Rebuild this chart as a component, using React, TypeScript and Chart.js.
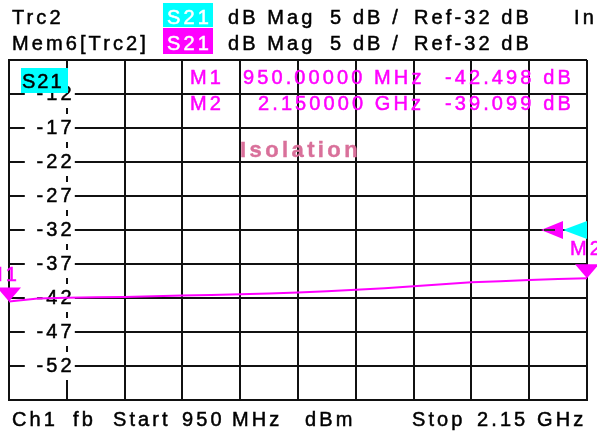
import React, { useEffect, useRef } from 'react';
import { Chart, registerables } from 'chart.js';

Chart.register(...registerables);

// ---- data ----
const freqsMHz = [950, 1010, 1070, 1130, 1190, 1250, 1310, 1370, 1430, 1490, 1550, 1610, 1670, 1730, 1790, 1850, 1910, 1970, 2030, 2090, 2150];
const s21dB = [-42.5, -42.08, -41.97, -41.9, -41.86, -41.74, -41.62, -41.55, -41.44, -41.33, -41.2, -41.02, -40.78, -40.55, -40.28, -39.98, -39.7, -39.52, -39.35, -39.22, -39.1];
const yTickLabels = [-12, -17, -22, -27, -32, -37, -42, -47, -52];
const startMHz = 950;
const stopMHz = 2150;
const refLevel = -32;
const dbPerDiv = 5;
const markerFreqs = [950, 2150];
const markerValues = [-42.498, -39.099];
const markerNames = ['M1', 'M2'];
const markerFreqText = ['950.00000 MHz', '2.150000 GHz'];
const markerValueText = ['-42.498 dB', '-39.099 dB'];

const FONT = '"Liberation Sans", Arial, sans-serif';
const MAGENTA = '#ff00ff';
const CYAN = '#00ffff';

function drawText(ctx: CanvasRenderingContext2D, s: string, x: number, y: number, color: string, opts: any = {}) {
  ctx.save();
  ctx.font = opts.font || `20px ${FONT}`;
  (ctx as any).letterSpacing = (opts.spacing ?? 3.1) + 'px';
  ctx.fillStyle = color;
  ctx.strokeStyle = color;
  ctx.lineWidth = opts.stroke ?? 0.5;
  ctx.textAlign = opts.align || 'left';
  ctx.textBaseline = 'alphabetic';
  ctx.fillText(s, x, y);
  if (ctx.lineWidth > 0) ctx.strokeText(s, x, y);
  ctx.restore();
}

function tri(ctx: CanvasRenderingContext2D, pts: number[][], color: string) {
  ctx.beginPath();
  ctx.moveTo(pts[0][0], pts[0][1]);
  ctx.lineTo(pts[1][0], pts[1][1]);
  ctx.lineTo(pts[2][0], pts[2][1]);
  ctx.closePath();
  ctx.fillStyle = color;
  ctx.fill();
}

const overlay = {
  id: 'vnaOverlay',
  beforeDatasetsDraw(chart: any) {
    const { ctx, scales } = chart;
    const y = scales.y;
    const x = scales.x;
    const axisX = x.getPixelForValue(startMHz + (stopMHz - startMHz) / 10);
    ctx.save();
    for (const v of yTickLabels) {
      const py = y.getPixelForValue(v);
      ctx.fillStyle = '#ffffff';
      ctx.fillRect(axisX - 42, py - 14, 50, 28);
      drawText(ctx, String(v), axisX + 8, py + 6, '#000', { align: 'right' });
    }
    // S21 box in plot
    const ca = chart.chartArea;
    ctx.fillStyle = CYAN;
    ctx.fillRect(ca.left + 12, ca.top + 8, 47, 25);
    drawText(ctx, 'S21', ca.left + 13, ca.top + 28, '#000', { spacing: 2 });
    ctx.restore();
  },
  afterDatasetsDraw(chart: any) {
    const { ctx, scales, chartArea: ca } = chart;
    const x = scales.x;
    const y = scales.y;
    ctx.save();
    // marker readout
    const rowY = [84, 110];
    for (let i = 0; i < 2; i++) {
      drawText(ctx, markerNames[i], 190, rowY[i], MAGENTA);
      drawText(ctx, markerFreqText[i], i === 0 ? 243 : 258, rowY[i], MAGENTA);
      drawText(ctx, markerValueText[i], 445, rowY[i], MAGENTA);
    }
    drawText(ctx, 'Isolation', 240, 157, '#d9709a', { font: `bold 22px ${FONT}`, spacing: 3.4, stroke: 0.4 });

    // markers
    for (let i = 0; i < 2; i++) {
      const cx = x.getPixelForValue(markerFreqs[i]);
      const ty = y.getPixelForValue(markerValues[i]);
      tri(ctx, [[cx - 12, ty - 14], [cx + 12, ty - 14], [cx, ty]], MAGENTA);
      if (i === 0) drawText(ctx, markerNames[i], cx - 23, ty - 20, MAGENTA);
      else drawText(ctx, markerNames[i], cx - 17, ty - 23, MAGENTA);
    }
    // reference level arrows
    const ry = y.getPixelForValue(refLevel);
    tri(ctx, [[ca.right, ry - 9], [ca.right, ry + 9], [ca.right - 24, ry]], CYAN);
    tri(ctx, [[ca.right - 24, ry - 9], [ca.right - 24, ry + 9], [ca.right - 46, ry]], MAGENTA);
    ctx.strokeStyle = '#333';
    ctx.lineWidth = 2;
    ctx.beginPath();
    ctx.moveTo(ca.right - 43, ry);
    ctx.lineTo(ca.right - 32, ry);
    ctx.stroke();
    ctx.restore();
  },
  afterDraw(chart: any) {
    const { ctx } = chart;
    ctx.save();
    // header row 1
    drawText(ctx, 'Trc2', 12, 24, '#000');
    ctx.fillStyle = CYAN;
    ctx.fillRect(163, 3, 50, 24);
    drawText(ctx, 'S21', 167, 24, '#fff');
    drawText(ctx, 'dB Mag', 228, 24, '#000');
    drawText(ctx, '5 dB /', 330, 24, '#000');
    drawText(ctx, `Ref${refLevel} dB`, 414, 24, '#000');
    drawText(ctx, 'In', 574, 24, '#000');
    // header row 2
    drawText(ctx, 'Mem6[Trc2]', 12, 50, '#000');
    ctx.fillStyle = MAGENTA;
    ctx.fillRect(163, 28, 50, 26);
    drawText(ctx, 'S21', 167, 50, '#fff');
    drawText(ctx, 'dB Mag', 228, 50, '#000');
    drawText(ctx, `${dbPerDiv} dB /`, 330, 50, '#000');
    drawText(ctx, `Ref${refLevel} dB`, 414, 50, '#000');
    // footer
    const fy = 426;
    drawText(ctx, 'Ch1', 12, fy, '#000');
    drawText(ctx, 'fb', 73, fy, '#000');
    drawText(ctx, 'Start', 113, fy, '#000');
    drawText(ctx, '950', 182, fy, '#000');
    drawText(ctx, 'MHz', 232, fy, '#000');
    drawText(ctx, 'dBm', 305, fy, '#000');
    drawText(ctx, 'Stop', 412, fy, '#000');
    drawText(ctx, '2.15 GHz', 477, fy, '#000');
    ctx.restore();
  },
};

export default function App() {
  const ref = useRef<HTMLCanvasElement | null>(null);
  useEffect(() => {
    document.body.style.margin = '0';
    const canvas = ref.current!;
    const chart = new Chart(canvas, {
      type: 'line',
      data: {
        datasets: [
          {
            label: 'S21',
            data: freqsMHz.map((f, i) => ({ x: f, y: s21dB[i] })),
            borderColor: MAGENTA,
            borderWidth: 2,
            pointRadius: 0,
            tension: 0,
            fill: false,
          },
        ],
      },
      options: {
        responsive: false,
        animation: false,
        events: [],
        layout: { padding: { left: 9, top: 60, right: 10, bottom: 33 } },
        plugins: { legend: { display: false }, tooltip: { enabled: false } },
        scales: {
          x: {
            type: 'linear',
            min: startMHz,
            max: stopMHz,
            ticks: { display: false, stepSize: (stopMHz - startMHz) / 10 },
            grid: { color: '#111', lineWidth: 2, drawTicks: false },
            border: { display: true, color: '#111', width: 2 },
          },
          y: {
            type: 'linear',
            min: refLevel - 5 * dbPerDiv,
            max: refLevel + 5 * dbPerDiv,
            ticks: { display: false, stepSize: dbPerDiv },
            grid: { color: '#111', lineWidth: 2, drawTicks: false },
            border: { display: true, color: '#111', width: 2 },
          },
        },
      },
      plugins: [overlay],
    });
    return () => chart.destroy();
  }, []);
  return (
    <div style={{ width: 597, height: 433, background: '#fff' }}>
      <canvas ref={ref} width={597} height={433} style={{ display: 'block' }} />
    </div>
  );
}
